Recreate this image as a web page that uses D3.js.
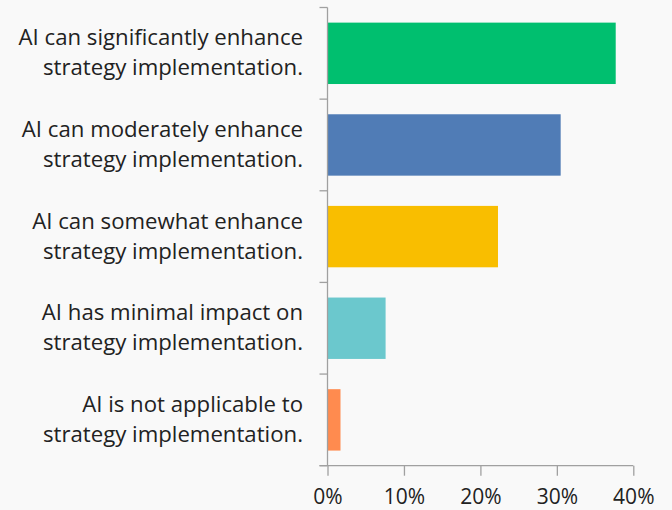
<!DOCTYPE html>
<html>
<head>
<meta charset="utf-8">
<script src="https://cdn.jsdelivr.net/npm/d3@7"></script>
<style>
  body { margin: 0; background: #f9f9f9; }
  svg { display: block; }
</style>
</head>
<body>
<div id="chart"></div>
<script>
var categories = [
  "AI can significantly enhance strategy implementation.",
  "AI can moderately enhance strategy implementation.",
  "AI can somewhat enhance strategy implementation.",
  "AI has minimal impact on strategy implementation.",
  "AI is not applicable to strategy implementation."
];
var values = [37.7, 30.5, 22.3, 7.6, 1.7];
var colors = ["#00bf6f", "#507cb6", "#f9be00", "#6bc8cd", "#ff8b4f"];
var xTicks = [0, 10, 20, 30, 40];

var width = 672, height = 510;
var margin = {top: 7.5, right: 38.7, bottom: 44.3, left: 327.5};

var svg = d3.select("#chart").append("svg")
    .attr("width", width)
    .attr("height", height);

svg.append("rect")
    .attr("width", width)
    .attr("height", height)
    .attr("fill", "#f9f9f9");

var x = d3.scaleLinear()
    .domain([0, 40])
    .range([margin.left, width - margin.right]);

var y = d3.scaleBand()
    .domain(categories)
    .range([margin.top, height - margin.bottom])
    .paddingInner(0.33)
    .paddingOuter(0.165);

var axisColor = "#a0a0a0";

// bars
svg.append("g")
  .selectAll("rect")
  .data(categories)
  .enter()
  .append("rect")
    .attr("x", x(0))
    .attr("y", function(d) { return y(d); })
    .attr("width", function(d, i) { return x(values[i]) - x(0); })
    .attr("height", y.bandwidth())
    .attr("fill", function(d, i) { return colors[i]; });

// y axis: line plus ticks at band boundaries
var y0 = margin.top, y1 = height - margin.bottom;
var bounds = d3.range(categories.length + 1).map(function(i) { return y0 + i * (y1 - y0) / categories.length; });

var yAxis = svg.append("g");
yAxis.append("line")
    .attr("x1", x(0)).attr("x2", x(0))
    .attr("y1", y0).attr("y2", y1)
    .attr("stroke", axisColor).attr("stroke-width", 1.3);
yAxis.selectAll(".ytick")
  .data(bounds)
  .enter()
  .append("line")
    .attr("x1", x(0) - 8).attr("x2", x(0))
    .attr("y1", function(d) { return d; })
    .attr("y2", function(d) { return d; })
    .attr("stroke", axisColor).attr("stroke-width", 1.3);

// category labels, two lines each
var labels = svg.append("g")
    .attr("font-family", "'Open Sans', 'Noto Sans', sans-serif")
    .attr("font-size", 22.2)
    .attr("fill", "#222")
    .attr("text-anchor", "end");

labels.selectAll("text")
  .data(categories)
  .enter()
  .append("text")
    .attr("x", 303)
    .attr("y", function(d) { return y(d) + y.bandwidth() / 2; })
    .each(function(d) {
      var k = d.indexOf(" strategy");
      var lines = [d.slice(0, k), d.slice(k + 1)];
      var t = d3.select(this);
      var cy = +t.attr("y");
      t.append("tspan").attr("x", 303).attr("y", cy - 8).text(lines[0]);
      t.append("tspan").attr("x", 303).attr("y", cy + 22).text(lines[1]);
    });

// x axis
var xAxis = d3.axisBottom(x)
    .tickValues(xTicks)
    .tickFormat(function(d) { return d + "%"; })
    .tickSize(10)
    .tickSizeOuter(0);

var gx = svg.append("g")
    .attr("transform", "translate(0," + y1 + ")")
    .call(xAxis);

gx.select(".domain").remove();
gx.append("line")
    .attr("x1", x(0) - 8).attr("x2", x(40))
    .attr("y1", 0).attr("y2", 0)
    .attr("stroke", axisColor).attr("stroke-width", 1.3);
gx.selectAll(".tick line")
    .attr("stroke", axisColor)
    .attr("stroke-width", 1.3);
gx.selectAll(".tick text")
    .attr("font-family", "'Open Sans', 'Noto Sans', sans-serif")
    .attr("font-size", 21)
    .attr("fill", "#222")
    .attr("dy", 0)
    .attr("y", 38);
</script>
</body>
</html>
